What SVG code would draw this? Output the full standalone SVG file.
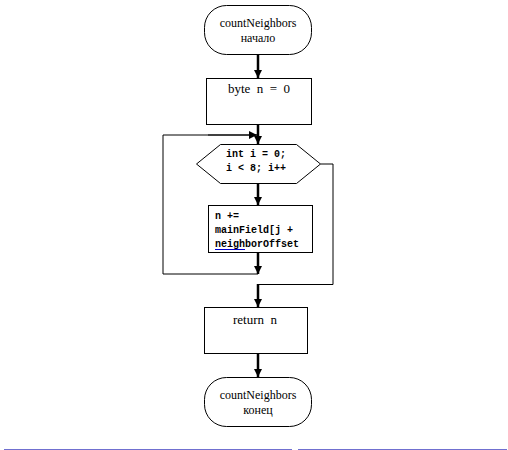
<svg xmlns="http://www.w3.org/2000/svg" width="508" height="450" viewBox="0 0 508 450">
<style>
.shape{fill:#fff;stroke:#000;stroke-width:1}
.serif{font-family:"Liberation Serif","Times New Roman",serif;font-size:12px;fill:#000}
.big{font-size:13px}
.mono{font-family:"Liberation Mono","Courier New",monospace;font-size:10px;font-weight:bold;fill:#000}
.thick{stroke:#000;stroke-width:2.5;fill:none}
.mid{stroke:#000;stroke-width:1.6;fill:none}
.thin{stroke:#000;stroke-width:1;fill:none}
</style>
<defs>
<marker id="ah" viewBox="0 0 8 8" refX="8" refY="4" markerWidth="8" markerHeight="8" markerUnits="userSpaceOnUse" orient="auto">
<path d="M0,0 L8,4 L0,8 Z" fill="#000"/>
</marker>
</defs>
<rect width="508" height="450" fill="#fff"/>
<g id="start">
<rect class="shape" x="204.5" y="5.5" width="107" height="49" rx="22" ry="22"/>
<text class="serif" x="258" y="27" text-anchor="middle">countNeighbors</text>
<text class="serif" x="258" y="42" text-anchor="middle">начало</text>
</g>
<g id="init">
<rect class="shape" x="206.5" y="78.5" width="105" height="46"/>
<text class="serif big" x="259" y="93" text-anchor="middle" xml:space="preserve">byte  n  =  0</text>
</g>
<g id="loop">
<polygon class="shape" points="196.5,164 220.5,144.5 296.5,144.5 320.5,164 296.5,183.5 220.5,183.5"/>
<text class="mono" x="226" y="157">int i = 0;</text>
<text class="mono" x="226" y="171">i &lt; 8; i++</text>
</g>
<g id="body">
<rect class="shape" x="208.5" y="205.5" width="104" height="47"/>
<text class="mono" x="215" y="219">n +=</text>
<text class="mono" x="215" y="233">mainField[j +</text>
<text class="mono" x="215" y="247">neighborOffset</text>
<line x1="215" y1="249.5" x2="245" y2="249.5" stroke="#0000cc" stroke-width="1"/>
</g>
<g id="ret">
<rect class="shape" x="204.5" y="307.5" width="103" height="46"/>
<text class="serif big" x="255" y="324" text-anchor="middle" xml:space="preserve">return  n</text>
</g>
<g id="end">
<rect class="shape" x="204.5" y="377.5" width="107" height="49" rx="22" ry="22"/>
<text class="serif" x="258" y="399" text-anchor="middle">countNeighbors</text>
<text class="serif" x="258" y="414" text-anchor="middle">конец</text>
</g>
<g id="connectors">
<line class="thick" x1="258" y1="55" x2="258" y2="78" marker-end="url(#ah)"/>
<line class="thick" x1="258" y1="125" x2="258" y2="144" marker-end="url(#ah)"/>
<polyline class="thin" points="258,274 163,274 163,135 208,135"/>
<line class="mid" x1="208" y1="135" x2="257" y2="135" marker-end="url(#ah)"/>
<line class="thick" x1="258" y1="184" x2="258" y2="205" marker-end="url(#ah)"/>
<line class="thick" x1="258" y1="253" x2="258" y2="274" marker-end="url(#ah)"/>
<polyline class="thin" points="320.5,164 333,164 333,284.5 258,284.5"/>
<line class="thick" x1="258" y1="284" x2="258" y2="307" marker-end="url(#ah)"/>
<line class="thick" x1="258" y1="354" x2="258" y2="377" marker-end="url(#ah)"/>
</g>
<g id="footer">
<line x1="4" y1="449.5" x2="292" y2="449.5" stroke="#7070d0" stroke-width="1"/>
<line x1="298" y1="449.5" x2="507" y2="449.5" stroke="#7070d0" stroke-width="1"/>
</g>
</svg>
